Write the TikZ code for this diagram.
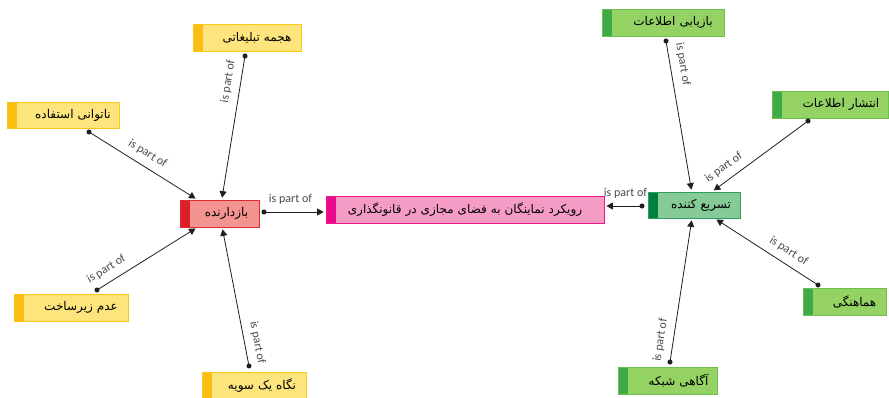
\documentclass[tikz,border=0pt]{standalone}
\usepackage{fontspec}
\setmainfont{Carlito}
\newfontfamily\farsi[Script=Arabic]{DejaVu Sans}
\TeXXeTstate=1
\usetikzlibrary{arrows.meta}

% right-to-left Persian text
\newcommand\fatext[1]{{\farsi\beginR #1\endR}}

\definecolor{ylwFill}{HTML}{FDE47C}
\definecolor{ylwLine}{HTML}{F8C81A}
\definecolor{ylwBar}{HTML}{FBBC13}
\definecolor{redFill}{HTML}{F39490}
\definecolor{redLine}{HTML}{E12A2E}
\definecolor{redBar}{HTML}{DC1F28}
\definecolor{pnkFill}{HTML}{F49CC6}
\definecolor{pnkLine}{HTML}{EC168A}
\definecolor{pnkBar}{HTML}{EB0A8B}
\definecolor{dgrFill}{HTML}{86CB97}
\definecolor{dgrLine}{HTML}{2F9E5F}
\definecolor{dgrBar}{HTML}{00803F}
\definecolor{lgrFill}{HTML}{95D264}
\definecolor{lgrLine}{HTML}{6EBF4E}
\definecolor{lgrBar}{HTML}{3EAA48}
\definecolor{linkInk}{HTML}{1E1E1E}
\definecolor{labelInk}{HTML}{4A4A4A}

\tikzset{
  concept/.style={rectangle, draw=#1Line, fill=#1Fill, line width=0.8pt,
    inner xsep=0pt, inner ysep=0pt, align=center,
    font=\fontsize{12}{14}\selectfont,
    path picture={\fill[#1Bar] (path picture bounding box.north west)
      rectangle ([xshift=10pt]path picture bounding box.south west);}},
  link/.style={draw=linkInk, line width=0.8pt, shorten <=-2.5pt, shorten >=2pt,
    {Circle[length=5pt]}-{Triangle[length=6.5pt,width=7pt]}},
  partof/.style={sloped, anchor=south, inner xsep=1pt, inner ysep=1.5pt,
    outer ysep=6pt, text=labelInk, font=\fontsize{12}{14}\selectfont}
}

\begin{document}
\begin{tikzpicture}[x=1pt, y=-1pt]
\useasboundingbox (0,0) rectangle (889,398);

% central concept
\node[concept=pnk, minimum width=278, text width=278pt, minimum height=27] (cen) at (465,209.5)
  {\fatext{رویکرد نماینگان به فضای مجازی در قانونگذاری}\hspace*{18pt}};

% left group
\node[concept=red, minimum width=79, text width=79pt, minimum height=27] (bz) at (219.5,213.5)
  {\hspace*{14pt}\fatext{بازدارنده}};
\node[concept=ylw, minimum width=108, text width=108pt, minimum height=27] (hj) at (247,37.5)
  {\hspace*{20pt}\fatext{هجمه تبلیغاتی}};
\node[concept=ylw, minimum width=112, text width=112pt, minimum height=26] (nt) at (63,115)
  {\hspace*{20pt}\fatext{ناتوانی استفاده}};
\node[concept=ylw, minimum width=114, text width=114pt, minimum height=27] (ad) at (71,307.5)
  {\hspace*{20pt}\fatext{عدم زیرساخت}};
\node[concept=ylw, minimum width=104, text width=104pt, minimum height=27] (ng) at (254,385.5)
  {\hspace*{16pt}\fatext{نگاه یک سویه}};

% right group
\node[concept=dgr, minimum width=92, text width=92pt, minimum height=26] (ts) at (694,205)
  {\hspace*{14pt}\fatext{تسریع کننده}};
\node[concept=lgr, minimum width=122, text width=122pt, minimum height=27] (by) at (663,22.5)
  {\hspace*{20pt}\fatext{بازیابی اطلاعات}};
\node[concept=lgr, minimum width=116, text width=116pt, minimum height=27] (en) at (830,104.5)
  {\hspace*{22pt}\fatext{انتشار اطلاعات}};
\node[concept=lgr, minimum width=83, text width=83pt, minimum height=27] (hm) at (844.5,301.5)
  {\hspace*{20pt}\fatext{هماهنگی}};
\node[concept=lgr, minimum width=99, text width=99pt, minimum height=27] (ag) at (667.5,380.5)
  {\hspace*{22pt}\fatext{آگاهی شبکه}};

% connector start points
\coordinate (hjDot) at (245,56);
\coordinate (ntDot) at (89,132);
\coordinate (adDot) at (97,290);
\coordinate (ngDot) at (249,366);
\coordinate (bzDot) at (264,212);
\coordinate (tsDot) at (642,206);
\coordinate (byDot) at (666,41);
\coordinate (enDot) at (808,121);
\coordinate (hmDot) at (818,285);
\coordinate (agDot) at (670,362);

% connectors
\draw[link] (hjDot) -- node[partof, pos=0.19] {is part of} (bz);
\draw[link] (ntDot) -- node[partof, pos=0.48] {is part of} (bz);
\draw[link] (adDot) -- node[partof, pos=0.16] {is part of} (bz);
\draw[link] (ngDot) -- node[partof, pos=0.15] {is part of} (bz);
\draw[link] (bzDot) -- node[partof, pos=0.43] {is part of} (bzDot -| cen.west);
\draw[link] (tsDot) -- node[partof, pos=0.44] {is part of} (tsDot -| cen.east);
\draw[link] (byDot) -- node[partof, pos=0.17] {is part of} (ts);
\draw[link] (enDot) -- node[partof, pos=0.80] {is part of} (ts);
\draw[link] (hmDot) -- node[partof, pos=0.35] {is part of} (ts);
\draw[link] (agDot) -- node[partof, pos=0.14] {is part of} (ts);
\end{tikzpicture}
\end{document}
